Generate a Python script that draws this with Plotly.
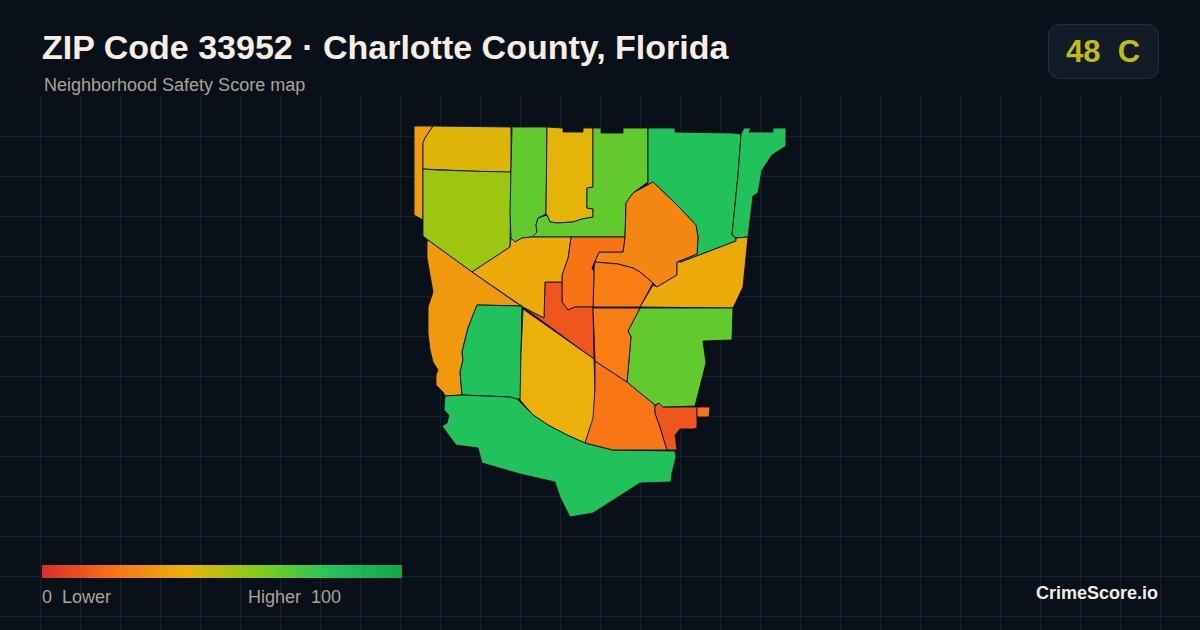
import plotly.graph_objects as go
from plotly.colors import sample_colorscale

# ---- text ----
title_text = "ZIP Code 33952 · Charlotte County, Florida"
subtitle_text = "Neighborhood Safety Score map"
badge_score = 48
badge_grade = "C"
legend_low = "0\u00a0\u00a0Lower"
legend_high = "Higher\u00a0\u00a0100"
brand_text = "CrimeScore.io"

# ---- colour scale for scores 0-100 ----
scale_stops = [0, 20, 40, 60, 80, 100]
scale_colors = ["#e02b2b", "#f97316", "#eab308", "#84cc16", "#22c55e", "#16a34a"]

# ---- neighbourhood scores ----
region_names = ["NW strip", "North yellow", "North lime", "North green", "North central", "North east green",
                "NE green", "Far NE green", "Central orange", "East", "Upper centre", "Centre", "Centre red",
                "West central", "West coast", "Southwest green", "South yellow", "South green", "South orange",
                "SE red", "SE island", "SE green", "Lower centre"]
region_scores = [33, 42, 55, 67, 41, 67, 82, 82, 26, 37, 23, 20, 12, 37, 32, 82, 39, 82, 21, 12, 20, 67, 23]

# ---- neighbourhood outlines ----
nw_strip = [(414,126),(433,126),(425,138),(423,143),(423,220),(414,215),(414,192)]
north_yellow = [(433,126),(511,127),(511,172),(497,172),(468,171),(438,170),(423,169),(423,143),(425,138)]
north_lime = [(423,169),(438,170),(468,171),(497,172),(511,172),(510,247),(472,272),(428,240),(423,236)]
north_green = [(512,127),(547,127),(546,214),(538,218),(536,225),(537,232),(532,237),(522,238),(515,242),(511,238),(510,212),(511,172)]
north_central = [(547,127),(563,128),(563,132),(583,132),(583,128),(593,128),(593,158),(593,187),(587,188),(587,208),(593,209),(593,217),(582,219),(573,222),(557,223),(550,222),(547,215),(546,214)]
ne_lime = [(593,128),(601,128),(601,133),(623,133),(623,128),(648,128),(648,182),(633,193),(626,203),(625,237),(571,237),(532,237),(537,232),(536,225),(538,218),(547,215),(550,222),(557,223),(573,222),(582,219),(593,217),(593,209),(587,208),(587,188),(593,187)]
ne_green = [(648,128),(675,128),(675,132),(732,133),(741,134),(738,175),(732,235),(736,238),(736,241),(681,262),(680,261),(697,254),(698,237),(696,225),(677,205),(653,182),(648,185)]
far_ne_green = [(744,128),(751,128),(749,132),(773,132),(773,128),(786,128),(786,146),(772,155),(762,170),(758,193),(753,196),(748,237),(736,238),(732,235),(738,175),(741,134)]
central_orange = [(653,182),(677,205),(696,225),(698,237),(697,254),(677,262),(677,275),(657,287),(653,283),(640,272),(633,268),(618,264),(595,262),(592,268),(599,252),(623,252),(625,237),(626,203),(633,193),(648,185)]
east_band = [(748,237),(743,287),(733,308),(640,307),(653,285),(657,287),(677,275),(677,262),(681,262),(736,241),(736,238)]
upper_centre = [(594,270),(595,262),(618,264),(633,268),(640,272),(653,283),(640,307),(593,307),(594,272)]
centre = [(571,237),(625,237),(623,252),(599,252),(592,268),(594,272),(593,307),(575,307),(568,310),(562,302),(562,275),(568,258)]
centre_red = [(523,307),(544,318),(545,282),(562,282),(562,302),(568,310),(575,307),(593,307),(594,359)]
west_central = [(510,247),(511,238),(515,242),(522,238),(532,237),(571,237),(568,258),(562,275),(562,282),(545,282),(544,318),(523,307),(472,272)]
west_coast = [(428,240),(472,272),(515,302),(522,306),(477,305),(468,328),(462,352),(463,360),(460,372),(462,395),(445,396),(443,392),(436,385),(436,375),(438,370),(433,362),(430,350),(428,333),(428,307),(433,292),(427,258),(427,242)]
southwest_green = [(477,305),(522,306),(521,353),(521,399),(517,399),(510,397),(486,396),(462,395),(460,372),(463,360),(462,352),(468,328)]
south_yellow = [(523,309),(594,359),(595,388),(594,418),(585,443),(567,435),(548,425),(533,415),(520,400),(521,353)]
south_green = [(445,396),(462,395),(486,396),(510,397),(517,399),(520,402),(533,415),(548,425),(567,435),(585,443),(600,447),(613,450),(675,451),(676,457),(672,473),(671,482),(640,483),(593,513),(570,517),(560,497),(555,482),(520,474),(482,463),(478,448),(456,445),(442,426),(447,423),(449,415),(444,410)]
south_orange = [(595,361),(627,382),(655,405),(655,413),(660,427),(667,450),(613,450),(585,443),(593,418),(595,388)]
se_red = [(655,406),(659,403),(663,407),(697,407),(697,428),(693,429),(680,429),(675,435),(677,450),(667,450),(660,427),(655,413)]
se_island = [(697,407),(710,407),(709,417),(697,417)]
se_green = [(640,308),(733,308),(732,340),(703,341),(706,363),(695,406),(663,407),(659,403),(655,405),(627,382),(631,337),(628,331)]
lower_centre = [(593,308),(640,308),(628,331),(631,337),(627,382),(595,361),(594,333)]

region_outlines = [nw_strip, north_yellow, north_lime, north_green, north_central, ne_lime, ne_green, far_ne_green,
                   central_orange, east_band, upper_centre, centre, centre_red, west_central, west_coast,
                   southwest_green, south_yellow, south_green, south_orange, se_red, se_island, se_green, lower_centre]

colorscale = [[s / 100, c] for s, c in zip(scale_stops, scale_colors)]

BG = "#0a101a"
GRID = "#14232f"
MUTED = "#aaa395"


def score_color(v):
    return sample_colorscale(colorscale, v / 100)[0]


fig = go.Figure()

for name, score, outline in zip(region_names, region_scores, region_outlines):
    xs = [p[0] for p in outline] + [outline[0][0]]
    ys = [p[1] for p in outline] + [outline[0][1]]
    fig.add_trace(go.Scatter(
        x=xs, y=ys, mode="lines", fill="toself", fillcolor=score_color(score),
        line=dict(color="rgba(14,18,24,0.9)", width=1),
        name=name, text=f"{name}: {score}", hoverinfo="text", showlegend=False,
    ))

# gradient legend bar, driven by the same colour stops
fig.add_trace(go.Heatmap(
    x=scale_stops, y=[0, 1], z=[scale_stops, scale_stops],
    xaxis="x2", yaxis="y2", colorscale=colorscale, zmin=0, zmax=100,
    zsmooth="best", showscale=False, hoverinfo="skip",
))

W, H = 1200, 630


def py(y):
    return 1 - y / H


def label(text, x, y, size, color, anchor="left", bold=False):
    return dict(text=f"<b>{text}</b>" if bold else text, x=x / W, y=py(y), xref="paper", yref="paper",
                xanchor=anchor, yanchor="middle", showarrow=False, font=dict(size=size, color=color),)


# rounded badge
bx0, bx1, by0, by1, r = 1048.5 / W, 1158.5 / W, py(78.5), py(24.5), 12
rx, ry = r / W, r / H
badge_path = (f"M {bx0+rx},{by1} L {bx1-rx},{by1} Q {bx1},{by1} {bx1},{by1-ry} "
              f"L {bx1},{by0+ry} Q {bx1},{by0} {bx1-rx},{by0} L {bx0+rx},{by0} "
              f"Q {bx0},{by0} {bx0},{by0+ry} L {bx0},{by1-ry} Q {bx0},{by1} {bx0+rx},{by1} Z")

fig.update_layout(
    width=W, height=H, autosize=False,
    margin=dict(l=0, r=0, t=0, b=0, pad=0),
    paper_bgcolor=BG, plot_bgcolor=BG,
    font=dict(family="Liberation Sans, Arial, sans-serif"),
    showlegend=False,
    xaxis=dict(range=[0, W], domain=[0, 1], tick0=0, dtick=40, showgrid=True, gridcolor=GRID, gridwidth=1,
               zeroline=False, showticklabels=False, ticks="", showline=False, fixedrange=True),
    yaxis=dict(range=[H, 96], domain=[0, 1 - 96 / H], tick0=96, dtick=40, showgrid=True, gridcolor=GRID, gridwidth=1,
               zeroline=False, showticklabels=False, ticks="", showline=False, fixedrange=True),
    xaxis2=dict(range=[0, 100], domain=[42 / W, 402 / W], anchor="y2", visible=False, fixedrange=True),
    yaxis2=dict(range=[0, 1], domain=[py(578), py(565)], anchor="x2", visible=False, fixedrange=True),
    shapes=[dict(type="path", path=badge_path, xref="paper", yref="paper", fillcolor="#111c28",
                 line=dict(color="#253241", width=1), layer="above")],
    annotations=[
        label(title_text, 40, 47, 34, "#f6eee2", bold=True),
        label(subtitle_text, 42, 85, 18, MUTED),
        label(f"{badge_score}\u00a0\u00a0{badge_grade}", 1103, 51, 31, score_color(badge_score), anchor="center", bold=True),
        label(legend_low, 40, 597, 18, MUTED),
        label(legend_high, 343, 597, 18, MUTED, anchor="right"),
        label(brand_text, 1160, 593, 18, "#f1ede5", anchor="right", bold=True),
    ],
)

fig.write_html("out.html", config=dict(displayModeBar=False),
               post_script="document.body.style.margin='0';document.documentElement.style.background='#0a101a';document.body.style.overflow='hidden';")
